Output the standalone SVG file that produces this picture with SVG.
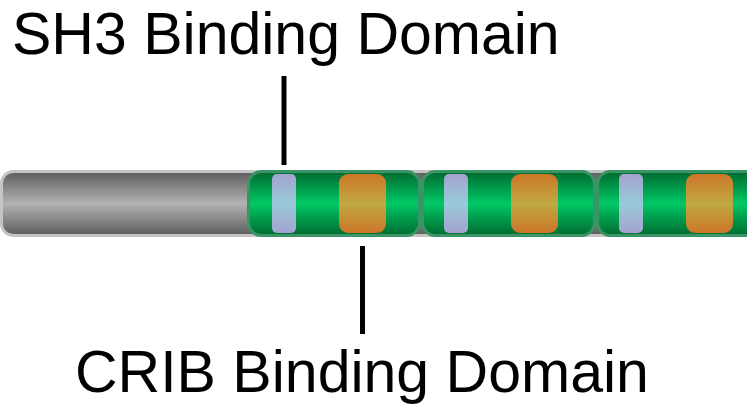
<svg xmlns="http://www.w3.org/2000/svg" width="747" height="408" viewBox="0 0 747 408">
  <defs>
    <linearGradient id="gGrey" x1="0" y1="0" x2="0" y2="1">
      <stop offset="0" stop-color="#5c5c5c"/>
      <stop offset="0.5" stop-color="#b2b2b2"/>
      <stop offset="1" stop-color="#5c5c5c"/>
    </linearGradient>
    <linearGradient id="gGreen" x1="0" y1="0" x2="0" y2="1">
      <stop offset="0" stop-color="#006a30"/>
      <stop offset="0.5" stop-color="#00c864"/>
      <stop offset="1" stop-color="#006a30"/>
    </linearGradient>
    <linearGradient id="gBlue" x1="0" y1="0" x2="0" y2="1">
      <stop offset="0" stop-color="#a4a2d0"/>
      <stop offset="0.5" stop-color="#98cad8"/>
      <stop offset="1" stop-color="#a4a2d0"/>
    </linearGradient>
    <linearGradient id="gOrange" x1="0" y1="0" x2="0" y2="1">
      <stop offset="0" stop-color="#cc7628"/>
      <stop offset="0.5" stop-color="#c0a842"/>
      <stop offset="1" stop-color="#cc7628"/>
    </linearGradient>
  </defs>
  <style>
    .lbl { font-family: "Liberation Sans", Arial, sans-serif; font-size: 59px; fill: #000; }
    .grey { fill: url(#gGrey); stroke: #c4c4c4; stroke-width: 3; }
    .seg { fill: url(#gGreen); stroke: #3a9566; stroke-width: 3; }
    .sh3 { fill: url(#gBlue); }
    .crib { fill: url(#gOrange); }
    .conn { stroke: #000; stroke-width: 5; fill: none; }
  </style>
  <g id="label-sh3"><text class="lbl" x="12" y="54">SH3 Binding Domain</text></g>
  <g id="label-crib"><text class="lbl" x="75" y="392">CRIB Binding Domain</text></g>
  <g id="backbone"><rect class="grey" x="1.5" y="171.5" width="800" height="64" rx="12"/></g>
  <g id="segment1">
    <rect class="seg" x="248.5" y="171.5" width="171" height="64" rx="13"/>
    <rect class="sh3" x="272" y="174" width="24" height="59" rx="5"/>
    <rect class="crib" x="339" y="174" width="47" height="59" rx="9"/>
  </g>
  <g id="segment2">
    <rect class="seg" x="422.5" y="171.5" width="172" height="64" rx="13"/>
    <rect class="sh3" x="444" y="174" width="24" height="59" rx="5"/>
    <rect class="crib" x="511" y="174" width="47" height="59" rx="9"/>
  </g>
  <g id="segment3">
    <rect class="seg" x="597.5" y="171.5" width="200" height="64" rx="13"/>
    <rect class="sh3" x="619" y="174" width="24" height="59" rx="5"/>
    <rect class="crib" x="686" y="174" width="47" height="59" rx="9"/>
  </g>
  <g id="connectors">
    <line class="conn" x1="284" y1="76" x2="284" y2="165"/>
    <line class="conn" x1="362.5" y1="246" x2="362.5" y2="334"/>
  </g>
</svg>
